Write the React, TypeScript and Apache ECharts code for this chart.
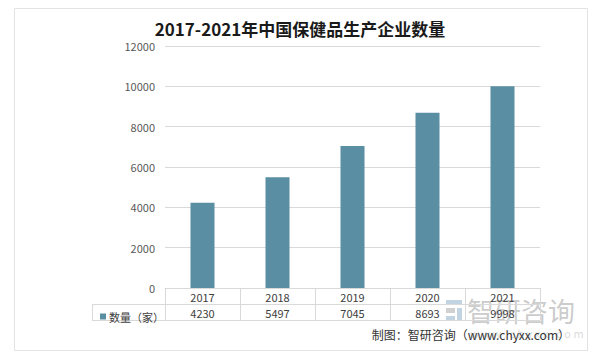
import React, { useEffect, useRef } from "react";
import * as echarts from "echarts";

const title = "2017-2021年中国保健品生产企业数量";
const years = ["2017", "2018", "2019", "2020", "2021"];
const counts = [4230, 5497, 7045, 8693, 9998];
const seriesName = "数量（家）";
const yTicks = { min: 0, max: 12000, interval: 2000 };
const sourceText = "制图：智研咨询（www.chyxx.com）";
const watermarkText = "智研咨询";
const watermarkUrl = "w w w . c h y x x . c o m";

const LINE = "#d9d9d9";
const BAR = "#5a8ea3";
const FONT = "'Noto Sans CJK SC', 'Noto Sans', sans-serif";

export default function App() {
  const ref = useRef<HTMLDivElement>(null);
  useEffect(() => {
    if (!ref.current) return;
    const chart = echarts.init(ref.current, null, { renderer: "svg" });
    const gl = 165, gr = 540, gt = 46, gb = 288;
    const rowH = 16;
    const legLeft = 92;
    chart.setOption({
      animation: false,
      backgroundColor: "#ffffff",
      textStyle: { fontFamily: FONT },
      title: {
        text: title,
        left: "center",
        top: 15,
        textStyle: { fontSize: 17, fontWeight: "bold", color: "#1a1a1a", fontFamily: FONT },
      },
      legend: {
        show: true,
        left: legLeft + 3,
        top: gb + rowH + 2,
        icon: "rect",
        itemWidth: 6,
        itemHeight: 6,
        itemGap: 4,
        textStyle: { fontSize: 11, color: "#404040", padding: [0, 0, 0, -2] },
        data: [seriesName],
      },
      grid: { left: gl, right: 600 - gr, top: gt, bottom: 358 - gb, containLabel: false },
      xAxis: [
        {
          type: "category",
          data: years,
          position: "bottom",
          axisLine: { show: true, lineStyle: { color: LINE, width: 1 } },
          axisTick: { show: true, length: rowH * 2, interval: 0, lineStyle: { color: LINE } },
          axisLabel: { margin: 3, fontSize: 11, color: "#404040", interval: 0 },
        },
        {
          type: "category",
          data: counts.map((v) => String(v)),
          position: "bottom",
          offset: rowH,
          axisLine: { show: true, lineStyle: { color: LINE, width: 1 } },
          axisTick: { show: false },
          axisLabel: { margin: 3, fontSize: 11, color: "#404040", interval: 0 },
        },
        {
          type: "category",
          data: years,
          position: "bottom",
          offset: rowH * 2,
          axisLine: { show: true, lineStyle: { color: LINE, width: 1 } },
          axisTick: { show: false },
          axisLabel: { show: false },
        },
      ],
      yAxis: {
        type: "value",
        min: yTicks.min,
        max: yTicks.max,
        interval: yTicks.interval,
        axisLine: { show: false },
        axisTick: { show: false },
        axisLabel: { fontSize: 11, color: "#595959", margin: 10, formatter: (v: number) => String(v) },
        splitLine: { lineStyle: { color: LINE, width: 1 } },
      },
      series: [
        {
          name: seriesName,
          type: "bar",
          xAxisIndex: 0,
          data: counts,
          barWidth: 24,
          itemStyle: { color: BAR },
        },
      ],
      graphic: [
        {
          type: "rect",
          silent: true,
          z: -10,
          shape: { x: 14.5, y: 8.5, width: 573, height: 342 },
          style: { fill: "#ffffff", stroke: "#e3e3e3", lineWidth: 1 },
        },
        {
          type: "line",
          silent: true,
          shape: { x1: legLeft, y1: gb + rowH + 0.5, x2: gl, y2: gb + rowH + 0.5 },
          style: { stroke: LINE, lineWidth: 1 },
        },
        {
          type: "line",
          silent: true,
          shape: { x1: legLeft, y1: gb + rowH * 2 + 0.5, x2: gl, y2: gb + rowH * 2 + 0.5 },
          style: { stroke: LINE, lineWidth: 1 },
        },
        {
          type: "line",
          silent: true,
          shape: { x1: legLeft + 0.5, y1: gb + rowH, x2: legLeft + 0.5, y2: gb + rowH * 2 },
          style: { stroke: LINE, lineWidth: 1 },
        },
        {
          type: "group",
          silent: true,
          z: 5,
          children: [
            { type: "rect", shape: { x: 446, y: 300, width: 16, height: 5 }, style: { fill: "rgba(120,160,190,0.45)" } },
            { type: "rect", shape: { x: 446, y: 308, width: 9, height: 5 }, style: { fill: "rgba(150,150,150,0.45)" } },
            { type: "rect", shape: { x: 457, y: 308, width: 5, height: 13 }, style: { fill: "rgba(120,160,190,0.45)" } },
            { type: "rect", shape: { x: 446, y: 316, width: 9, height: 5 }, style: { fill: "rgba(120,160,190,0.45)" } },
            {
              type: "text",
              x: 467,
              y: 297,
              style: { text: watermarkText, fontSize: 27, fill: "rgba(140,140,140,0.45)", fontFamily: FONT },
            },
            {
              type: "text",
              x: 470,
              y: 327,
              style: { text: watermarkUrl, fontSize: 11, fill: "rgba(160,160,160,0.4)", fontFamily: FONT },
            },
          ],
        },
        {
          type: "text",
          right: 30,
          top: 328,
          z: 10,
          style: { text: sourceText, fontSize: 12, fill: "#333333", fontFamily: FONT },
        },
      ],
    });
    return () => chart.dispose();
  }, []);
  return (
    <div
      ref={ref}
      style={{ position: "fixed", left: 0, top: 0, width: 600, height: 358, background: "#fff" }}
    />
  );
}
